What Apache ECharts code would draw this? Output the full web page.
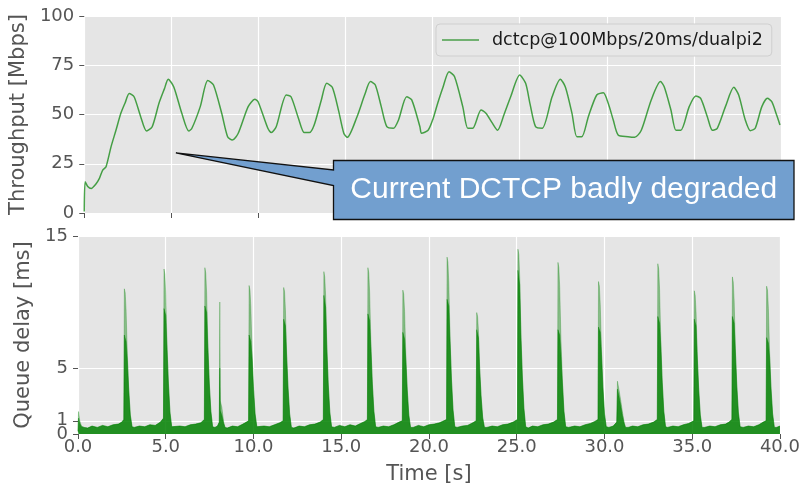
<!DOCTYPE html>
<html>
<head>
<meta charset="utf-8">
<script src="https://cdn.jsdelivr.net/npm/echarts@6/dist/echarts.min.js"></script>
<style>html,body{margin:0;padding:0;background:#fff}#c{width:803px;height:486px}</style>
</head>
<body>
<div id="c"></div>
<script>
// ---- data ----
const seriesName = 'dctcp@100Mbps/20ms/dualpi2';
const xTicks = [0, 5, 10, 15, 20, 25, 30, 35, 40];
const throughputTicks = [0, 25, 50, 75, 100];
const queueTicks = [0, 5, 15];
const queueTicksExtra = [1];

// throughput [time s, Mbps]
const throughput = [
  [0.0,0.7],[0.05,15.9],[0.2,13.5],[0.4,12.5],[0.65,14.5],[0.87,17.6],[1.06,21.8],[1.25,23.5],[1.54,33.7],[1.82,42],
  [2.1,50.6],[2.35,56],[2.58,60.7],[2.86,59],[3.24,48.9],[3.58,41.6],[3.9,43.8],[4.29,55.7],[4.6,63],[4.82,67.9],
  [5.14,64],[5.6,50.6],[6.0,41.6],[6.18,43],[6.66,54],[7.09,67.2],[7.42,65],[7.89,50.6],[8.23,38.7],[8.5,37],
  [8.84,40.5],[9.41,54],[9.79,57.7],[9.98,56.5],[10.54,43],[10.74,40.8],[11.02,43.8],[11.6,59.9],[11.87,59],
  [12.3,48],[12.63,40.8],[12.92,40.8],[13.2,44.7],[13.6,57],[13.92,65.8],[14.24,63.8],[14.6,52],[14.9,40.5],[15.1,38.4],
  [15.66,48.9],[16.1,60],[16.43,66.7],[16.71,65],[17.05,54],[17.37,43.8],[17.75,43],[18.04,47.2],[18.51,59],[18.8,57.4],
  [19.27,43.8],[19.36,40.5],[19.74,42],[20.03,48],[20.3,56],[20.6,64],[20.94,71.7],[21.26,69.2],[21.73,54],[22.02,43],
  [22.3,43],[22.78,52.3],[23.06,50.6],[23.4,46],[23.73,42],[24.1,50],[24.48,59],[25.0,70],[25.34,65.8],[25.6,55],
  [25.91,43.8],[26.29,43],[26.86,59],[27.33,67.9],[27.62,64],[28.0,50.6],[28.28,38.7],[28.56,38.7],[28.94,48.9],
  [29.42,59.9],[29.8,61],[30.08,55.7],[30.37,47.2],[30.65,39.6],[31.22,38.7],[31.6,38.4],[31.98,42],[32.55,57.4],
  [33.08,66.7],[33.3,64],[33.68,52.3],[33.97,42],[34.25,42],[34.73,54],[35.11,59.4],[35.39,58.2],[35.77,48.9],
  [36.06,42],[36.34,43],[36.81,54],[37.29,63.8],[37.57,59.9],[37.95,47.2],[38.24,41.8],[38.52,43],[38.9,54],
  [39.22,58.2],[39.47,56.5],[39.75,49.7],[39.94,44.7]
];

// queue delay background level between spikes [time s, ms]
const queueBase = [
  [0.55,0.45],[0.8,0.6],[1.1,0.5],[1.4,0.65],[1.7,0.55],[2.0,0.7],[2.3,0.75],[2.5,0.9],
  [3.2,0.5],[3.5,0.6],[3.8,0.55],[4.1,0.7],[4.4,0.65],[4.7,0.9],
  [5.45,0.45],[5.8,0.6],[6.1,0.55],[6.4,0.7],[6.7,0.75],[7.0,0.85],
  [7.8,0.5],[7.95,0.6],
  [8.5,0.45],[8.8,0.6],[9.1,0.55],[9.4,0.75],[9.6,0.9],
  [10.3,0.5],[10.6,0.6],[10.9,0.55],[11.2,0.7],[11.5,0.85],
  [12.3,0.45],[12.6,0.6],[12.9,0.55],[13.2,0.7],[13.5,0.75],[13.8,0.9],
  [14.6,0.5],[14.9,0.65],[15.2,0.55],[15.5,0.7],[15.8,0.6],[16.1,0.8],[16.35,0.95],
  [17.1,0.5],[17.4,0.6],[17.7,0.55],[18.0,0.7],[18.3,0.9],
  [19.1,0.5],[19.4,0.65],[19.7,0.55],[20.0,0.7],[20.3,0.75],[20.6,0.85],[20.85,1.0],
  [21.6,0.5],[21.9,0.6],[22.2,0.65],[22.5,0.85],
  [23.3,0.5],[23.6,0.6],[23.9,0.55],[24.2,0.7],[24.5,0.75],[24.8,0.9],
  [25.65,0.45],[25.9,0.6],[26.2,0.55],[26.5,0.7],[26.8,0.75],[27.1,0.9],
  [27.95,0.5],[28.3,0.6],[28.6,0.55],[28.9,0.7],[29.2,0.8],[29.45,0.95],
  [30.25,0.5],[30.5,0.6],
  [31.35,0.5],[31.6,0.6],[31.9,0.55],[32.2,0.7],[32.5,0.75],[32.8,0.9],
  [33.6,0.5],[33.9,0.6],[34.2,0.55],[34.5,0.7],[34.8,0.8],
  [35.7,0.5],[36.0,0.6],[36.3,0.55],[36.6,0.7],[36.9,0.75],[37.1,0.9],
  [37.9,0.5],[38.2,0.6],[38.5,0.55],[38.8,0.7],[39.05,0.9],
  [39.8,0.5],[40.0,0.6]
];

// queue delay spikes, upper (light) envelope [time s, ms]
const queueSpikesMax = [
  [0.0,0.2],[0.03,1.7],[0.1,1.0],[0.2,0.6],[0.35,0.5],
  [2.61,1.1],[2.64,11.0],[2.69,10.7],[2.74,9.4],[2.81,6.1],[2.89,3.5],[2.98,1.5],[3.08,0.55],
  [4.87,1.2],[4.90,12.5],[4.95,12.1],[5.00,10.6],[5.07,6.9],[5.15,4.0],[5.24,1.75],[5.34,0.55],
  [7.20,1.1],[7.23,12.6],[7.28,12.2],[7.33,10.7],[7.40,6.9],[7.48,4.0],[7.57,1.8],[7.67,0.55],
  [8.05,0.9],[8.08,10.0],[8.11,2.5],[8.2,2.0],[8.3,0.9],[8.38,0.5],
  [9.72,1.0],[9.75,11.25],[9.80,10.9],[9.85,9.6],[9.92,6.2],[10.00,3.6],[10.09,1.6],[10.19,0.55],
  [11.69,1.0],[11.72,11.1],[11.77,10.8],[11.82,9.4],[11.89,6.1],[11.97,3.6],[12.06,1.55],[12.16,0.5],
  [13.98,1.1],[14.01,12.3],[14.06,11.9],[14.11,10.5],[14.18,6.8],[14.26,3.9],[14.35,1.7],[14.45,0.55],
  [16.49,1.1],[16.52,12.6],[16.57,12.2],[16.62,10.7],[16.69,6.9],[16.77,4.0],[16.86,1.8],[16.96,0.55],
  [18.48,1.0],[18.51,10.9],[18.56,10.6],[18.61,9.3],[18.68,6.0],[18.76,3.5],[18.85,1.5],[18.95,0.5],
  [21.00,1.1],[21.03,13.4],[21.08,13.0],[21.13,11.4],[21.20,7.4],[21.28,4.3],[21.37,1.9],[21.47,0.55],
  [22.69,1.0],[22.72,9.2],[22.77,8.9],[22.82,7.8],[22.89,5.1],[22.97,2.9],[23.06,1.3],[23.16,0.5],
  [25.04,1.1],[25.07,14.0],[25.12,13.6],[25.17,11.9],[25.24,7.7],[25.32,4.5],[25.41,2.0],[25.51,0.55],
  [27.32,1.1],[27.35,13.0],[27.40,12.6],[27.45,11.1],[27.52,7.2],[27.60,4.2],[27.69,1.8],[27.79,0.55],
  [29.63,1.1],[29.66,11.55],[29.71,11.2],[29.76,9.8],[29.83,6.4],[29.91,3.7],[30.00,1.6],[30.10,0.55],
  [30.70,0.9],[30.74,4.0],[30.82,3.4],[30.92,2.6],[31.02,1.7],[31.12,0.9],[31.2,0.5],
  [33.01,1.1],[33.04,12.9],[33.09,12.5],[33.14,11.0],[33.21,7.1],[33.29,4.1],[33.38,1.8],[33.48,0.55],
  [35.09,1.0],[35.12,10.85],[35.17,10.5],[35.22,9.2],[35.29,6.0],[35.37,3.5],[35.46,1.5],[35.56,0.5],
  [37.26,1.1],[37.29,11.9],[37.34,11.5],[37.39,10.1],[37.46,6.5],[37.54,3.8],[37.63,1.7],[37.73,0.55],
  [39.21,1.0],[39.24,11.2],[39.29,10.9],[39.34,9.5],[39.41,6.2],[39.49,3.6],[39.58,1.6],[39.68,0.5]
];

// queue delay spikes, dense (dark) core [time s, ms]
const queueSpikesCore = [
  [0.0,0.2],[0.03,1.2],[0.1,0.8],[0.2,0.55],[0.35,0.5],
  [2.61,1.1],[2.64,7.5],[2.69,7.4],[2.74,7.0],[2.81,5.6],[2.89,3.3],[2.98,1.4],[3.08,0.55],
  [4.87,1.2],[4.90,9.5],[4.95,9.4],[5.00,9.0],[5.07,6.5],[5.15,3.8],[5.24,1.6],[5.34,0.55],
  [7.20,1.1],[7.23,9.7],[7.28,9.6],[7.33,9.2],[7.40,6.5],[7.48,3.8],[7.57,1.7],[7.67,0.55],
  [8.05,0.9],[8.08,5.0],[8.11,1.8],[8.2,1.4],[8.3,0.8],[8.38,0.5],
  [9.72,1.0],[9.75,7.5],[9.80,7.4],[9.85,7.0],[9.92,5.7],[10.00,3.4],[10.09,1.5],[10.19,0.55],
  [11.69,1.0],[11.72,8.7],[11.77,8.6],[11.82,8.2],[11.89,5.8],[11.97,3.4],[12.06,1.5],[12.16,0.5],
  [13.98,1.1],[14.01,10.5],[14.06,10.4],[14.11,9.6],[14.18,6.4],[14.26,3.7],[14.35,1.6],[14.45,0.55],
  [16.49,1.1],[16.52,9.1],[16.57,9.0],[16.62,8.6],[16.69,6.5],[16.77,3.8],[16.86,1.7],[16.96,0.55],
  [18.48,1.0],[18.51,7.7],[18.56,7.6],[18.61,7.2],[18.68,5.6],[18.76,3.3],[18.85,1.4],[18.95,0.5],
  [21.00,1.1],[21.03,10.2],[21.08,10.1],[21.13,9.7],[21.20,7.0],[21.28,4.1],[21.37,1.8],[21.47,0.55],
  [22.69,1.0],[22.72,7.9],[22.77,7.8],[22.82,7.3],[22.89,4.8],[22.97,2.8],[23.06,1.2],[23.16,0.5],
  [25.04,1.1],[25.07,12.4],[25.12,12.3],[25.17,11.3],[25.24,7.3],[25.32,4.3],[25.41,1.9],[25.51,0.55],
  [27.32,1.1],[27.35,7.9],[27.40,7.8],[27.45,7.5],[27.52,6.0],[27.60,3.9],[27.69,1.7],[27.79,0.55],
  [29.63,1.1],[29.66,8.1],[29.71,8.0],[29.76,7.7],[29.83,6.0],[29.91,3.5],[30.00,1.5],[30.10,0.55],
  [30.70,0.9],[30.74,3.4],[30.82,2.9],[30.92,2.2],[31.02,1.4],[31.12,0.8],[31.2,0.5],
  [33.01,1.1],[33.04,8.9],[33.09,8.8],[33.14,8.4],[33.21,6.7],[33.29,3.9],[33.38,1.7],[33.48,0.55],
  [35.09,1.0],[35.12,8.7],[35.17,8.6],[35.22,8.2],[35.29,5.7],[35.37,3.3],[35.46,1.4],[35.56,0.5],
  [37.26,1.1],[37.29,8.9],[37.34,8.8],[37.39,8.4],[37.46,6.2],[37.54,3.6],[37.63,1.6],[37.73,0.55],
  [39.21,1.0],[39.24,7.3],[39.29,7.2],[39.34,6.9],[39.41,5.8],[39.49,3.4],[39.58,1.5],[39.68,0.5]
];

// annotation
const annotationText = 'Current DCTCP badly degraded';
const annotationTip = [5.26, 30.5];

// ---- build ----
const byTime = (a, b) => a[0] - b[0];
const envData = queueBase.concat(queueSpikesMax).sort(byTime);
const coreData = queueBase.concat(queueSpikesCore).sort(byTime);

const FONT = 'DejaVu Sans';
const TICK_COLOR = '#555555';
const tickLabel = { fontFamily: FONT, fontSize: 18, color: TICK_COLOR, showMinLabel: true, showMaxLabel: true };
const nameStyle = { fontFamily: FONT, fontSize: 21, color: TICK_COLOR };
const gridLine = { show: true, lineStyle: { color: '#ffffff', width: 1.2 } };
const tick = { show: true, length: 5, lineStyle: { color: TICK_COLOR, width: 1 } };

const chart = echarts.init(document.getElementById('c'), null, { renderer: 'canvas' });
chart.setOption({
  animation: false,
  backgroundColor: '#ffffff',
  grid: [
    { left: 78, right: 22, top: 16, height: 197, show: true, backgroundColor: '#e5e5e5', borderWidth: 0 },
    { left: 78, right: 22, top: 236, height: 199, show: true, backgroundColor: '#e5e5e5', borderWidth: 0 }
  ],
  legend: {
    data: [seriesName],
    left: 436, top: 24,
    padding: [6, 9, 6, 6],
    icon: 'rect',
    itemWidth: 37, itemHeight: 1.6,
    backgroundColor: '#e7e7e7', borderColor: '#cfcfcf', borderWidth: 1, borderRadius: 4,
    textStyle: { fontFamily: FONT, fontSize: 17.5, color: '#1a1a1a', padding: [0, 0, 0, 8], lineHeight: 20 }
  },
  xAxis: [
    { type: 'value', gridIndex: 0, min: 0, max: 40, interval: 5,
      axisLine: { show: false }, axisTick: tick, axisLabel: { show: false }, splitLine: gridLine },
    { type: 'value', gridIndex: 1, min: 0, max: 40, interval: 5,
      axisLine: { show: false }, axisTick: tick,
      axisLabel: Object.assign({ margin: 4, formatter: v => v.toFixed(1) }, tickLabel),
      splitLine: gridLine,
      name: 'Time [s]', nameLocation: 'middle', nameGap: 30, nameTextStyle: nameStyle }
  ],
  yAxis: [
    { type: 'value', gridIndex: 0, min: 0, max: 100, interval: 25,
      axisLine: { show: false }, axisTick: tick,
      axisLabel: Object.assign({ margin: 10 }, tickLabel),
      splitLine: gridLine,
      name: 'Throughput [Mbps]', nameLocation: 'middle', nameGap: 50, nameTextStyle: nameStyle },
    { type: 'value', gridIndex: 1, min: 0, max: 15, interval: 1,
      axisLine: { show: false },
      axisTick: Object.assign({ customValues: queueTicks }, tick),
      axisLabel: Object.assign({ margin: 10, customValues: queueTicks }, tickLabel),
      splitLine: gridLine,
      name: 'Queue delay [ms]', nameLocation: 'middle', nameGap: 34, nameTextStyle: nameStyle },
    { type: 'value', gridIndex: 1, min: 0, max: 15, interval: 1, position: 'left',
      axisLine: { show: false },
      axisTick: Object.assign({ customValues: queueTicksExtra }, tick),
      axisLabel: Object.assign({ margin: 10, customValues: queueTicksExtra }, tickLabel),
      splitLine: gridLine }
  ],
  series: [
    { name: seriesName, type: 'line', xAxisIndex: 0, yAxisIndex: 0, data: throughput,
      symbol: 'none', smooth: 0.25,
      lineStyle: { color: '#008000', opacity: 0.7, width: 1.5 }, itemStyle: { color: '#4a9f4a' } },
    { name: 'queue max', type: 'line', xAxisIndex: 1, yAxisIndex: 1, data: envData,
      symbol: 'none', lineStyle: { color: '#008000', opacity: 0.35, width: 0.8 },
      areaStyle: { color: '#008000', opacity: 0.4 } },
    { name: 'queue core', type: 'line', xAxisIndex: 1, yAxisIndex: 1, data: coreData,
      symbol: 'none', lineStyle: { color: '#008000', opacity: 0.5, width: 0.8 },
      areaStyle: { color: '#008000', opacity: 0.75 } }
  ]
});

// annotation callout anchored in the top plot's data coordinates
const tip = chart.convertToPixel({ gridIndex: 0 }, annotationTip);
const boxL = 333.5, boxR = 794, boxT = 160.5, boxB = 219.5;
const w1 = 170, w2 = 185.5;
chart.setOption({
  graphic: [
    { type: 'polygon', z: 100,
      shape: { points: [[boxL, boxT], [boxR, boxT], [boxR, boxB], [boxL, boxB], [boxL, w2], tip, [boxL, w1]] },
      style: { fill: '#729fcf', stroke: '#111111', lineWidth: 1.3 } },
    { type: 'text', z: 101, x: (boxL + boxR) / 2, y: (boxT + boxB) / 2,
      style: { text: annotationText, fill: '#ffffff', font: '30px "Liberation Sans"', align: 'center', verticalAlign: 'middle' } }
  ]
});
</script>
</body>
</html>
